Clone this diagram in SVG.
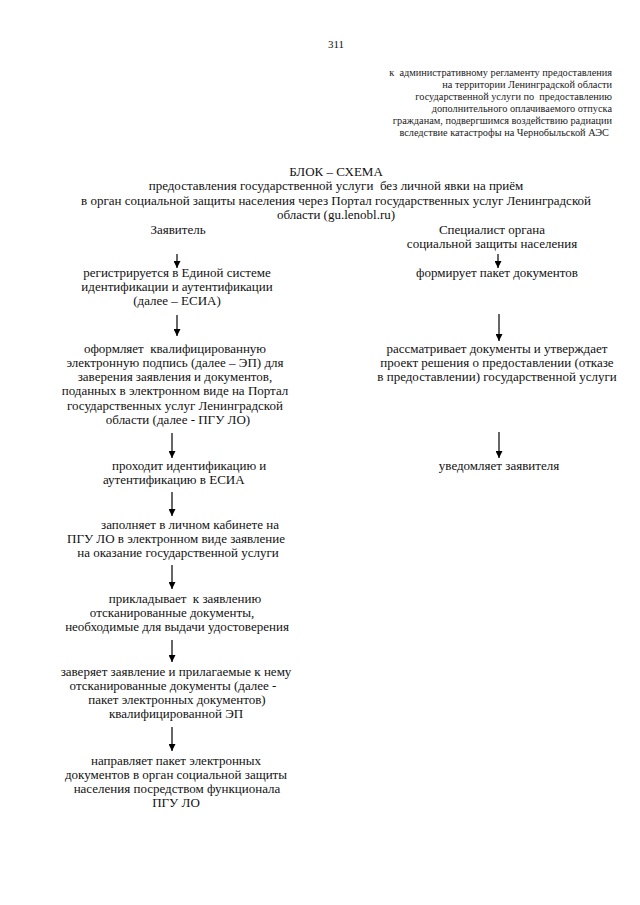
<svg xmlns="http://www.w3.org/2000/svg" width="640" height="905" viewBox="0 0 640 905">
<style>
text{font-family:"Liberation Serif","Times New Roman",serif;fill:#111;white-space:pre;}
.t{font-size:13px;text-anchor:middle;}
.s{font-size:10.3px;text-anchor:end;fill:#222;}
.l{font-size:13px;}
.c line{stroke:#000;stroke-width:1.2;}
</style>
<defs>
<marker id="a" markerWidth="7" markerHeight="7" refX="7" refY="3.5" orient="auto" markerUnits="userSpaceOnUse">
<path d="M0,0 L7,3.5 L0,7 Z" fill="#000"/>
</marker>
</defs>
<rect width="640" height="905" fill="#fff"/>
<g id="page-number"><text class="t" x="336" y="48" style="font-size:11px">311</text></g>
<g id="header">
<text class="s" x="612" y="76">к  административному регламенту предоставления</text>
<text class="s" x="612" y="88">на территории Ленинградской области</text>
<text class="s" x="612" y="100">государственной услуги по  предоставлению</text>
<text class="s" x="612" y="112">дополнительного оплачиваемого отпуска</text>
<text class="s" x="612" y="124">гражданам, подвергшимся воздействию радиации</text>
<text class="s" x="609" y="136">вследствие катастрофы на Чернобыльской АЭС</text>
</g>
<g id="title">
<text class="t" x="336" y="176">БЛОК – СХЕМА</text>
<text class="t" x="336" y="190">предоставления государственной услуги  без личной явки на приём</text>
<text class="t" x="336" y="205">в орган социальной защиты населения через Портал государственных услуг Ленинградской</text>
<text class="t" x="336" y="219">области (gu.lenobl.ru)</text>
</g>
<g id="applicant"><text class="t" x="178" y="234">Заявитель</text></g>
<g id="specialist">
<text class="t" x="492" y="234">Специалист органа</text>
<text class="t" x="492" y="248">социальной защиты населения</text>
</g>
<g id="a1">
<text class="t" x="177" y="277">регистрируется в Единой системе</text>
<text class="t" x="177" y="291">идентификации и аутентификации</text>
<text class="t" x="177" y="305">(далее – ЕСИА)</text>
</g>
<g id="a2">
<text class="t" x="175" y="353">оформляет  квалифицированную</text>
<text class="t" x="175" y="367">электронную подпись (далее – ЭП) для</text>
<text class="t" x="175" y="381">заверения заявления и документов,</text>
<text class="t" x="175" y="395">поданных в электронном виде на Портал</text>
<text class="t" x="175" y="410">государственных услуг Ленинградской</text>
<text class="t" x="178" y="424">области (далее - ПГУ ЛО)</text>
</g>
<g id="a3">
<text class="l" x="112" y="470">проходит идентификацию и</text>
<text class="l" x="103" y="484">аутентификацию в ЕСИА</text>
</g>
<g id="a4">
<text class="t" x="190" y="529">заполняет в личном кабинете на</text>
<text class="t" x="176" y="543">ПГУ ЛО в электронном виде заявление</text>
<text class="t" x="178" y="557">на оказание государственной услуги</text>
</g>
<g id="a5">
<text class="t" x="185" y="603">прикладывает  к заявлению</text>
<text class="t" x="172" y="617">отсканированные документы,</text>
<text class="t" x="177" y="631">необходимые для выдачи удостоверения</text>
</g>
<g id="a6">
<text class="t" x="176" y="676">заверяет заявление и прилагаемые к нему</text>
<text class="t" x="173" y="690">отсканированные документы (далее -</text>
<text class="t" x="177" y="704">пакет электронных документов)</text>
<text class="t" x="176" y="718">квалифицированной ЭП</text>
</g>
<g id="a7">
<text class="t" x="176" y="765">направляет пакет электронных</text>
<text class="t" x="176" y="779">документов в орган социальной защиты</text>
<text class="t" x="177" y="793">населения посредством функционала</text>
<text class="t" x="176" y="807">ПГУ ЛО</text>
</g>
<g id="s1"><text class="t" x="497" y="277">формирует пакет документов</text></g>
<g id="s2">
<text class="t" x="497" y="353">рассматривает документы и утверждает</text>
<text class="t" x="497" y="367">проект решения о предоставлении (отказе</text>
<text class="t" x="497" y="381">в предоставлении) государственной услуги</text>
</g>
<g id="s3"><text class="t" x="499" y="470">уведомляет заявителя</text></g>
<g id="connectors" class="c">
<line x1="177" y1="254" x2="177" y2="268" marker-end="url(#a)"/>
<line x1="177" y1="315" x2="177" y2="336" marker-end="url(#a)"/>
<line x1="172" y1="433" x2="172" y2="458" marker-end="url(#a)"/>
<line x1="172" y1="492" x2="172" y2="516" marker-end="url(#a)"/>
<line x1="172" y1="565" x2="172" y2="589" marker-end="url(#a)"/>
<line x1="172" y1="640" x2="172" y2="662" marker-end="url(#a)"/>
<line x1="172" y1="727" x2="172" y2="751" marker-end="url(#a)"/>
<line x1="498" y1="254" x2="498" y2="268" marker-end="url(#a)"/>
<line x1="499" y1="314" x2="499" y2="341" marker-end="url(#a)"/>
<line x1="499" y1="432" x2="499" y2="458" marker-end="url(#a)"/>
</g>
</svg>
